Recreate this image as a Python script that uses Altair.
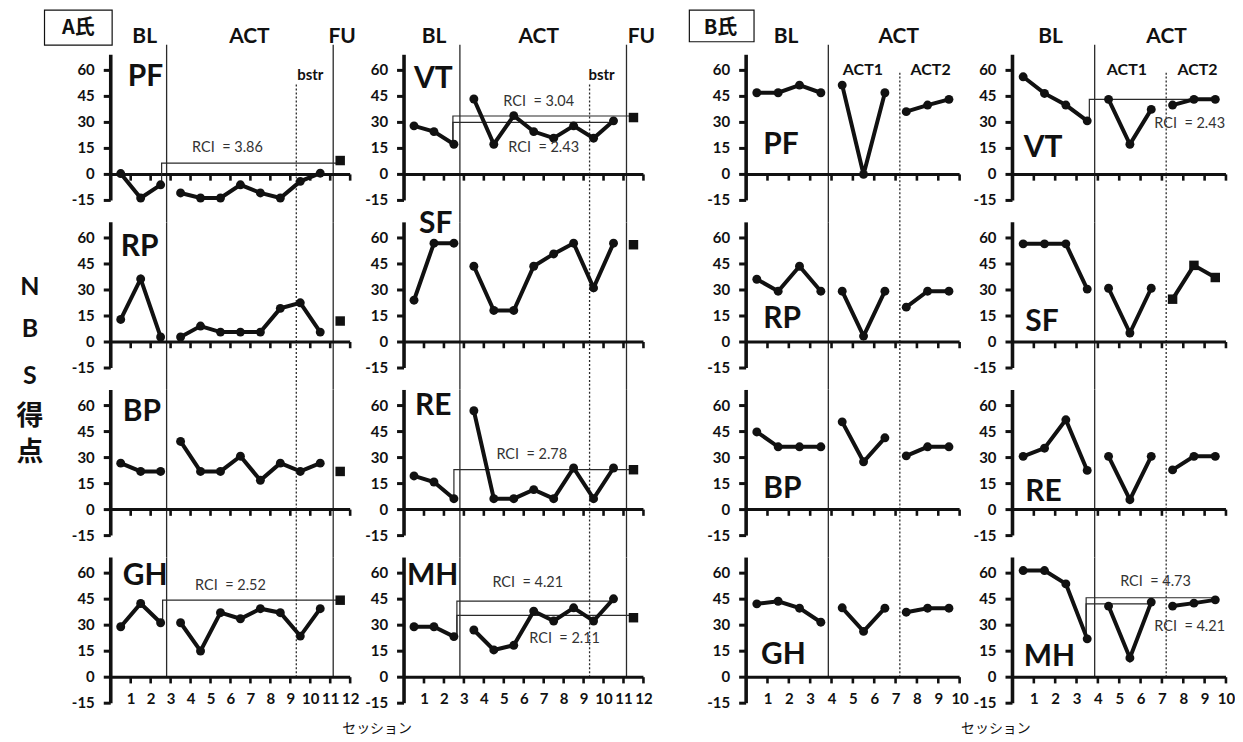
import altair as alt
import pandas as pd

LATIN = "Lato"
CJK = "Noto Sans CJK JP"
INK = "#111111"
THIN = "#2a2a2a"
NB = "\u00a0"

# ---------------- values ----------------
# A氏 : BL = sessions 1-3, ACT = 4-11, FU = 12
A_BL_S = [1, 2, 3]
A_ACT_S = [4, 5, 6, 7, 8, 9, 10, 11]
A_FU_S = 12

A_PF_BL = [0.5, -13.6, -6.0]
A_PF_ACT = [-10.7, -13.6, -13.6, -6.0, -10.7, -13.6, -4.0, 0.7]
A_PF_FU = 8.0
A_VT_BL = [28.0, 24.7, 17.4]
A_VT_ACT = [43.5, 17.4, 33.9, 24.7, 20.9, 28.0, 20.9, 30.9]
A_VT_FU = 32.8
A_RP_BL = [13.0, 36.4, 2.9]
A_RP_ACT = [2.9, 9.2, 5.7, 5.7, 5.7, 19.4, 22.6, 5.7]
A_RP_FU = 12.1
A_SF_BL = [24.1, 57.0, 57.0]
A_SF_ACT = [43.7, 18.2, 18.2, 43.7, 50.8, 57.0, 31.2, 57.0]
A_SF_FU = 56.1
A_BP_BL = [26.8, 22.0, 22.0]
A_BP_ACT = [39.3, 22.0, 22.0, 30.8, 16.9, 26.8, 22.0, 26.8]
A_BP_FU = 22.0
A_RE_BL = [19.4, 15.9, 6.3]
A_RE_ACT = [57.0, 6.3, 6.3, 11.5, 6.3, 24.0, 6.3, 24.0]
A_RE_FU = 23.0
A_GH_BL = [29.1, 42.5, 31.4]
A_GH_ACT = [31.4, 15.1, 37.2, 33.7, 39.5, 37.2, 23.7, 39.5]
A_GH_FU = 44.4
A_MH_BL = [29.1, 29.1, 23.4]
A_MH_ACT = [27.2, 15.7, 18.4, 38.1, 32.4, 40.0, 32.4, 45.2]
A_MH_FU = 34.3

# B氏 : BL = sessions 1-4, ACT1 = 5-7, ACT2 = 8-10
B_BL_S = [1, 2, 3, 4]
B_ACT1_S = [5, 6, 7]
B_ACT2_S = [8, 9, 10]

B_PF_BL = [47.1, 47.1, 51.5, 47.1]
B_PF_ACT1 = [51.5, 0.0, 47.1]
B_PF_ACT2 = [36.2, 40.0, 43.3]
B_VT_BL = [56.3, 46.7, 40.0, 30.9]
B_VT_ACT1 = [43.3, 17.4, 37.5]
B_VT_ACT2 = [40.0, 43.3, 43.3]
B_RP_BL = [36.2, 29.3, 43.7, 29.3]
B_RP_ACT1 = [29.3, 3.4, 29.3]
B_RP_ACT2 = [20.1, 29.3, 29.3]
B_SF_BL = [56.6, 56.6, 56.6, 30.5]
B_SF_ACT1 = [31.0, 5.2, 31.0]
B_SF_ACT2 = [24.7, 44.2, 37.2]
B_BP_BL = [44.8, 36.2, 36.2, 36.2]
B_BP_ACT1 = [50.6, 27.6, 41.4]
B_BP_ACT2 = [31.0, 36.2, 36.2]
B_RE_BL = [30.7, 35.4, 51.8, 22.6]
B_RE_ACT1 = [30.7, 5.7, 30.7]
B_RE_ACT2 = [22.9, 30.7, 30.7]
B_GH_BL = [42.3, 43.8, 39.8, 31.7]
B_GH_ACT1 = [40.0, 26.4, 39.8]
B_GH_ACT2 = [37.5, 39.8, 39.8]
B_MH_BL = [61.5, 61.5, 53.8, 22.1]
B_MH_ACT1 = [41.0, 11.1, 43.3]
B_MH_ACT2 = [41.0, 42.7, 44.6]

# RCI reference lines: (x start, y start, level, x end)
A_PF_RCI = [(2.55, -6.0, 6.5, 11.45)]
A_VT_RCI = [(2.45, 17.4, 33.7, 11.45), (2.45, 17.4, 30.0, 10.5)]
A_RE_RCI = [(2.5, 6.3, 23.0, 11.45)]
A_GH_RCI = [(2.6, 31.4, 44.4, 11.45)]
A_MH_RCI = [(2.65, 23.4, 43.9, 10.3), (2.65, 23.4, 35.6, 11.45)]
B_VT_RCI = [(3.6, 30.9, 43.3, 9.45)]
B_MH_RCI = [(3.45, 22.1, 45.8, 9.45), (3.45, 22.1, 42.3, 6.55)]

A_PF_RCI_TXT = [("RCI  = 3.86", 5.85, 15.0)]
A_VT_RCI_TXT = [("RCI  = 3.04", 6.75, 42.0), ("RCI  = 2.43", 7.0, 15.0)]
A_RE_RCI_TXT = [("RCI  = 2.78", 6.4, 31.2)]
A_GH_RCI_TXT = [("RCI  = 2.52", 6.0, 52.5)]
A_MH_RCI_TXT = [("RCI  = 4.21", 6.2, 54.4), ("RCI  = 2.11", 8.05, 21.8)]
B_VT_RCI_TXT = [("RCI  = 2.43", 8.3, 28.9)]
B_MH_RCI_TXT = [("RCI  = 4.73", 6.7, 54.7), ("RCI  = 4.21", 8.3, 29.0)]

# phase change lines (session axis units)
A_PHASE_SOLID = [2.8, 11.15]
A_PHASE_DOT = [9.3]
B_PHASE_SOLID = [3.85]
B_PHASE_DOT = [7.2]

A_XTICKS = list(range(1, 13))
B_XTICKS = list(range(1, 11))
Y_TICKS = [-15, 0, 15, 30, 45, 60]
Y_TICK_LABELS = ["-15", "0", "15", "30", "45", "60"]
YDOM = [-15, 69]

# ---------------- layout ----------------
H = 146
PX = {"A": 20.0, "B": 21.4}          # pixels per session
XL = {"A": 2.2, "B": 2.1}            # room left of the value axis (session units)
WIDTHS = {("A", 0): 294, ("A", 1): 342, ("B", 0): 267, ("B", 1): 259}


def panel(kind, col, row, code, series, fu, rci, rci_txt, label_xy, extra_text=None, boxes=None):
    px = PX[kind]
    xl = XL[kind]
    width = WIDTHS[(kind, col)]
    xs = alt.Scale(domain=[-xl, width / px - xl], nice=False, zero=False)
    ys = alt.Scale(domain=YDOM, nice=False, zero=False)
    ticks = A_XTICKS if kind == "A" else B_XTICKS
    xend = ticks[-1]
    if row == 3:
        xaxis = alt.Axis(values=ticks, title=None, grid=False, domain=False, ticks=False,
                         tickSize=0, labelPadding=0, offset=-12, labelFont=LATIN,
                         labelFontWeight="bold", labelFontSize=15, labelColor=INK,
                         labelFlush=False, labelOverlap=False, labelAngle=0)
    else:
        xaxis = None

    def X(f):
        return alt.X(f"{f}:Q", scale=xs, axis=xaxis)

    def Y(f):
        return alt.Y(f"{f}:Q", scale=ys, axis=None)

    layers = []
    # phase lines
    top_solid = 74.8 if row == 0 else 69.0
    top_dot = (52.0 if kind == "A" else 59.5) if row == 0 else 69.0
    bottom = 0.0 if row == 3 else -27.6
    solid = A_PHASE_SOLID if kind == "A" else B_PHASE_SOLID
    dot = A_PHASE_DOT if kind == "A" else B_PHASE_DOT
    sdf = pd.DataFrame({"px": solid, "py": [bottom] * len(solid), "py2": [top_solid] * len(solid)})
    ddf = pd.DataFrame({"px": dot, "py": [bottom] * len(dot), "py2": [top_dot] * len(dot)})
    layers.append(alt.Chart(sdf).mark_rule(color=THIN, strokeWidth=1.3).encode(
        x=X("px"), y=Y("py"), y2=alt.Y2("py2")))
    layers.append(alt.Chart(ddf).mark_rule(color=THIN, strokeWidth=1.3, strokeDash=[2, 2]).encode(
        x=X("px"), y=Y("py"), y2=alt.Y2("py2")))
    # value axis: line, ticks, labels
    yl = pd.DataFrame({"vx": [0.0], "vy": [YDOM[0]], "vy2": [YDOM[1]]})
    layers.append(alt.Chart(yl).mark_rule(color=INK, strokeWidth=3.6).encode(
        x=X("vx"), y=Y("vy"), y2=alt.Y2("vy2")))
    ytk = pd.DataFrame({"kx": [-7.0 / px] * len(Y_TICKS), "kx2": [0.0] * len(Y_TICKS),
                        "ky": Y_TICKS, "lab": Y_TICK_LABELS,
                        "lx": [-16.0 / px] * len(Y_TICKS)})
    layers.append(alt.Chart(ytk).mark_rule(color=INK, strokeWidth=3).encode(
        x=X("kx"), x2=alt.X2("kx2"), y=Y("ky")))
    layers.append(alt.Chart(ytk).mark_text(font=LATIN, fontWeight="bold", fontSize=15, color=INK,
                                           align="right", baseline="middle").encode(
        x=X("lx"), y=Y("ky"), text="lab:N"))
    # session axis line at 0 and its ticks
    adf = pd.DataFrame({"ax": [0], "ax2": [xend], "ay": [0]})
    layers.append(alt.Chart(adf).mark_rule(color=INK, strokeWidth=3).encode(
        x=X("ax"), x2=alt.X2("ax2"), y=Y("ay")))
    tdf = pd.DataFrame({"tx": ticks, "ty": [0] * len(ticks), "ty2": [-3.6] * len(ticks)})
    layers.append(alt.Chart(tdf).mark_rule(color=INK, strokeWidth=2.6).encode(
        x=X("tx"), y=Y("ty"), y2=alt.Y2("ty2")))
    # RCI lines
    if rci:
        rows = []
        for i, (x0, y0, lvl, x1) in enumerate(rci):
            rows += [dict(rx=x0, ry=y0, rid=i, k=0), dict(rx=x0, ry=lvl, rid=i, k=1),
                     dict(rx=x1, ry=lvl, rid=i, k=2)]
        layers.append(alt.Chart(pd.DataFrame(rows)).mark_line(color=THIN, strokeWidth=1.2).encode(
            x=X("rx"), y=Y("ry"), detail="rid:N", order="k:Q"))
    # data series
    recs = []
    for seg, sessions, vals, shape in series:
        for s, v in zip(sessions, vals):
            recs.append(dict(pos=s - 0.5, val=v, seg=seg, shape=shape))
    df = pd.DataFrame(recs)
    layers.append(alt.Chart(df).mark_line(color=INK, strokeWidth=4).encode(
        x=X("pos"), y=Y("val"), detail="seg:N"))
    cdf = df[df["shape"] == "circle"]
    qdf = df[df["shape"] == "square"]
    if len(cdf):
        layers.append(alt.Chart(cdf).mark_point(shape="circle", filled=True, size=80, color=INK,
                                                opacity=1).encode(x=X("pos"), y=Y("val")))
    if len(qdf):
        layers.append(alt.Chart(qdf).mark_point(shape="square", filled=True, size=90, color=INK,
                                                opacity=1).encode(x=X("pos"), y=Y("val")))
    if fu is not None:
        fdf = pd.DataFrame({"pos": [fu[0] - 0.5], "val": [fu[1]]})
        layers.append(alt.Chart(fdf).mark_point(shape="square", filled=True, size=90, color=INK,
                                                opacity=1).encode(x=X("pos"), y=Y("val")))
    # RCI texts
    if rci_txt:
        rtd = pd.DataFrame({"t": [r[0].replace(" ", NB) for r in rci_txt],
                            "tx": [r[1] for r in rci_txt], "ty": [r[2] for r in rci_txt]})
        layers.append(alt.Chart(rtd).mark_text(font=LATIN, fontSize=14.5, color="#333333",
                                               align="center", baseline="middle").encode(
            x=X("tx"), y=Y("ty"), text="t:N"))
    # panel label
    ldf = pd.DataFrame({"t": [code], "tx": [label_xy[0]], "ty": [label_xy[1]]})
    layers.append(alt.Chart(ldf).mark_text(font=LATIN, fontWeight="bold", fontSize=30, color=INK,
                                           align="left", baseline="middle").encode(
        x=X("tx"), y=Y("ty"), text="t:N"))
    # boxes
    if boxes:
        bdf = pd.DataFrame({"bx": [b[0] for b in boxes], "bx2": [b[1] for b in boxes],
                            "by": [b[2] for b in boxes], "by2": [b[3] for b in boxes]})
        layers.append(alt.Chart(bdf).mark_rect(fill="white", stroke=INK, strokeWidth=1.2).encode(
            x=X("bx"), x2=alt.X2("bx2"), y=Y("by"), y2=alt.Y2("by2")))
    # extra texts (headers etc.)
    if extra_text:
        for (t, tx, ty, size, weight, font) in extra_text:
            edf = pd.DataFrame({"t": [t], "tx": [tx], "ty": [ty]})
            layers.append(alt.Chart(edf).mark_text(font=font, fontWeight=weight, fontSize=size,
                                                   color=INK, align="center",
                                                   baseline="middle").encode(
                x=X("tx"), y=Y("ty"), text="t:N"))
    return alt.layer(*layers).properties(width=width, height=H)


def A_series(bl, act):
    return [("BL", A_BL_S, bl, "circle"), ("ACT", A_ACT_S, act, "circle")]


def B_series(bl, a1, a2, shape2="circle"):
    return [("BL", B_BL_S, bl, "circle"), ("ACT1", B_ACT1_S, a1, "circle"),
            ("ACT2", B_ACT2_S, a2, shape2)]


HY = 79.3
A1_head = [("BL", 1.7, HY, 21, "bold", LATIN), ("ACT", 6.95, HY, 21, "bold", LATIN),
           ("FU", 11.6, HY, 21, "bold", LATIN), ("bstr", 10.0, 57.5, 15, "bold", LATIN),
           ("A氏", -1.62, 84.3, 20, "bold", CJK)]
A2_head = [("BL", 1.5, HY, 21, "bold", LATIN), ("ACT", 6.75, HY, 21, "bold", LATIN),
           ("FU", 11.9, HY, 21, "bold", LATIN), ("bstr", 9.9, 57.5, 15, "bold", LATIN)]
B1_head = [("BL", 1.87, HY, 21, "bold", LATIN), ("ACT", 7.15, HY, 21, "bold", LATIN),
           ("ACT1", 5.47, 60.3, 16, "bold", LATIN), ("ACT2", 8.64, 60.3, 16, "bold", LATIN),
           ("B氏", -1.2, 84.3, 20, "bold", CJK)]
B2_head = [("BL", 1.78, HY, 21, "bold", LATIN), ("ACT", 7.22, HY, 21, "bold", LATIN),
           ("ACT1", 5.36, 60.3, 16, "bold", LATIN), ("ACT2", 8.67, 60.3, 16, "bold", LATIN)]
Y_TITLE = [("N", -4.05, 31.6, 25, "bold", LATIN), ("B", -4.05, 7.5, 25, "bold", LATIN),
           ("S", -4.05, -19.5, 25, "bold", LATIN), ("得", -4.05, -43.0, 27, "bold", CJK),
           ("点", -4.05, -64.0, 27, "bold", CJK)]
A_XT = [("セッション", 13.35, -29.9, 14, "normal", CJK)]
B_XT = [("セッション", 11.7, -29.9, 14, "normal", CJK)]

panels = [
    panel("A", 0, 0, "PF", A_series(A_PF_BL, A_PF_ACT), (A_FU_S, A_PF_FU), A_PF_RCI, A_PF_RCI_TXT,
          (0.85, 56.3), A1_head, boxes=[(-3.32, 0.07, 74.6, 94.8)]),
    panel("A", 1, 0, "VT", A_series(A_VT_BL, A_VT_ACT), (A_FU_S, A_VT_FU), A_VT_RCI, A_VT_RCI_TXT,
          (0.5, 55.3), A2_head),
    panel("B", 0, 0, "PF", B_series(B_PF_BL, B_PF_ACT1, B_PF_ACT2), None, None, None,
          (0.8, 17.2), B1_head, boxes=[(-2.66, 0.37, 76.5, 94.8)]),
    panel("B", 1, 0, "VT", B_series(B_VT_BL, B_VT_ACT1, B_VT_ACT2), None, B_VT_RCI, B_VT_RCI_TXT,
          (0.53, 15.0), B2_head),

    panel("A", 0, 1, "RP", A_series(A_RP_BL, A_RP_ACT), (A_FU_S, A_RP_FU), None, None,
          (0.5, 55.0), Y_TITLE),
    panel("A", 1, 1, "SF", A_series(A_SF_BL, A_SF_ACT), (A_FU_S, A_SF_FU), None, None,
          (0.75, 67.8)),
    panel("B", 0, 1, "RP", B_series(B_RP_BL, B_RP_ACT1, B_RP_ACT2), None, None, None,
          (0.8, 13.0)),
    panel("B", 1, 1, "SF", B_series(B_SF_BL, B_SF_ACT1, B_SF_ACT2, "square"), None, None, None,
          (0.6, 11.6)),

    panel("A", 0, 2, "BP", A_series(A_BP_BL, A_BP_ACT), (A_FU_S, A_BP_FU), None, None,
          (0.6, 56.3)),
    panel("A", 1, 2, "RE", A_series(A_RE_BL, A_RE_ACT), (A_FU_S, A_RE_FU), A_RE_RCI, A_RE_RCI_TXT,
          (0.55, 60.0)),
    panel("B", 0, 2, "BP", B_series(B_BP_BL, B_BP_ACT1, B_BP_ACT2), None, None, None,
          (0.8, 12.0)),
    panel("B", 1, 2, "RE", B_series(B_RE_BL, B_RE_ACT1, B_RE_ACT2), None, None, None,
          (0.6, 10.0)),

    panel("A", 0, 3, "GH", A_series(A_GH_BL, A_GH_ACT), (A_FU_S, A_GH_FU), A_GH_RCI, A_GH_RCI_TXT,
          (0.6, 58.2), A_XT),
    panel("A", 1, 3, "MH", A_series(A_MH_BL, A_MH_ACT), (A_FU_S, A_MH_FU), A_MH_RCI, A_MH_RCI_TXT,
          (0.15, 58.2)),
    panel("B", 0, 3, "GH", B_series(B_GH_BL, B_GH_ACT1, B_GH_ACT2), None, None, None,
          (0.7, 12.5), B_XT),
    panel("B", 1, 3, "MH", B_series(B_MH_BL, B_MH_ACT1, B_MH_ACT2), None, B_MH_RCI, B_MH_RCI_TXT,
          (0.53, 11.5)),
]

chart = alt.concat(
    *panels, columns=4, spacing={"row": 22, "column": 0}, bounds="flush", align="each"
).properties(
    padding={"left": 8, "top": 0, "right": 0, "bottom": 0},
    background="white",
).configure_view(stroke=None)

chart.save("out.html", embed_options={"renderer": "svg", "actions": False})
